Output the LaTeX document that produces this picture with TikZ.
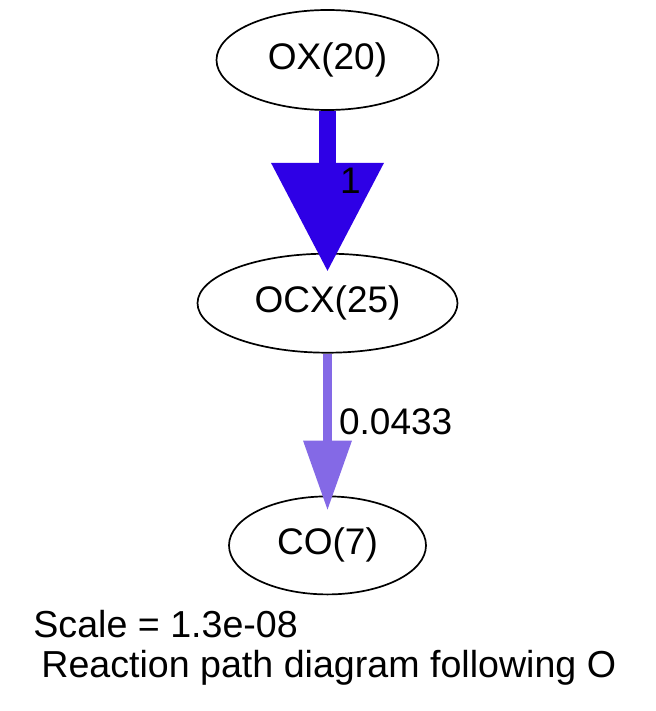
\documentclass[tikz,border=0pt]{standalone}
\usepackage{fontspec}
\setmainfont{Liberation Sans}
\usetikzlibrary{arrows.meta,positioning,shapes.geometric}
\definecolor{FlowBig}{HTML}{2E00E6}
\definecolor{FlowSmall}{HTML}{8469E6}

\begin{document}
\begin{tikzpicture}[
  x=0.5pt,y=-0.5pt,node distance=71pt,
  species/.style={draw,ellipse,line width=0.85pt,inner sep=0pt,minimum height=49.5pt,font=\fontsize{18.5}{22}\selectfont},
  flow/.style={text=black,inner sep=0pt,right=4.5pt,font=\fontsize{18.5}{22}\selectfont},
  caption/.style={anchor=base west,inner sep=0pt,font=\fontsize{18.8}{22}\selectfont}
]
  \useasboundingbox (0,0) rectangle (656,711);
  \node[species,minimum width=111pt,minimum height=50pt] (ox) at (327.5,60) {OX(20)};
  \node[species,minimum width=130pt,below=of ox] (ocx) {OCX(25)};
  \node[species,minimum width=98.5pt,minimum height=49pt,below=of ocx] (co) {CO(7)};
  \draw[FlowBig,line width=8.5pt,-{Triangle[length=54pt,width=56.5pt,line width=0pt]},shorten >=-9pt] (ox) -- node[flow,pos=0.49,right=2pt] (w1) {1} (ocx);
  \draw[FlowSmall,line width=4.6pt,-{Triangle[length=34.5pt,width=24.5pt,line width=0pt]},shorten >=-7pt] (ocx) -- node[flow,pos=0.48,right=3.5pt] (w2) {0.0433} (co);
  \node[caption] (scale) at (33,637) {Scale = 1.3e-08};
  \node[caption] (title) at (41,677) {Reaction path diagram following O};
\end{tikzpicture}
\end{document}
